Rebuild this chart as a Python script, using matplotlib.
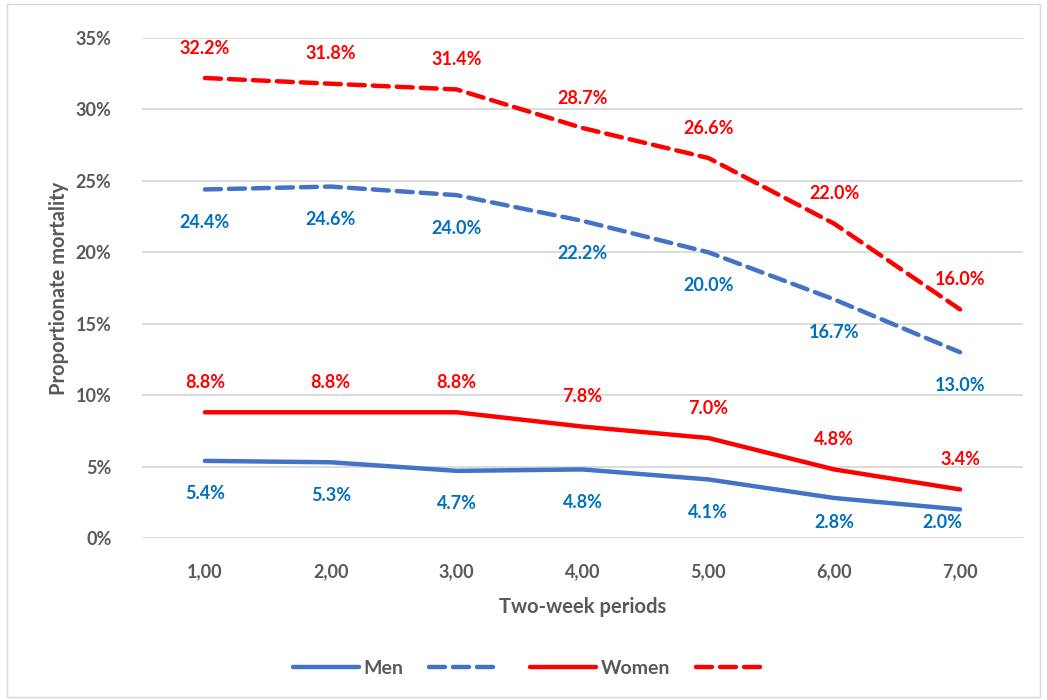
import matplotlib.pyplot as plt
from matplotlib.patches import Rectangle
from matplotlib.ticker import FuncFormatter

plt.rcParams['font.family'] = ['Lato', 'DejaVu Sans']
plt.rcParams['font.weight'] = 'bold'

periods = [1, 2, 3, 4, 5, 6, 7]
period_labels = ["1,00", "2,00", "3,00", "4,00", "5,00", "6,00", "7,00"]

men_solid = [5.4, 5.3, 4.7, 4.8, 4.1, 2.8, 2.0]
men_dashed = [24.4, 24.6, 24.0, 22.2, 20.0, 16.7, 13.0]
women_solid = [8.8, 8.8, 8.8, 7.8, 7.0, 4.8, 3.4]
women_dashed = [32.2, 31.8, 31.4, 28.7, 26.6, 22.0, 16.0]

MEN_LINE = '#4472C4'
MEN_TEXT = '#0070C0'
WOMEN = '#FF0000'
GREY = '#595959'

fig = plt.figure(figsize=(10.47, 7.0), dpi=100)
ax = fig.add_axes([142 / 1047, 1 - 538 / 700, (1023 - 142) / 1047, 500 / 700])

ax.set_xlim(0.5, 7.5)
ax.set_ylim(0, 35)

dash = (0, (3.6, 1.8))
l1, = ax.plot(periods, men_solid, color=MEN_LINE, lw=3.2, solid_capstyle='round', label='Men')
l2, = ax.plot(periods, men_dashed, color=MEN_LINE, lw=3.2, ls=dash, dash_capstyle='round', label=' ')
l3, = ax.plot(periods, women_solid, color=WOMEN, lw=3.2, solid_capstyle='round', label='Women')
l4, = ax.plot(periods, women_dashed, color=WOMEN, lw=3.2, ls=dash, dash_capstyle='round', label=' ')

# data labels: (values, colour, vertical offset in pixels)
series_labels = [
    (men_solid, MEN_TEXT, -33),
    (men_dashed, MEN_TEXT, -33),
    (women_solid, WOMEN, 30),
    (women_dashed, WOMEN, 30),
]
fig.canvas.draw()
y0_pix = ax.transData.transform((0, 0))[1]
for vals, col, dy in series_labels:
    for i, (x, v) in enumerate(zip(periods, vals)):
        off = dy
        if dy < 0:
            # keep labels inside the plot area like Excel does
            vpix = ax.transData.transform((x, v))[1]
            off = -min(-dy, vpix - y0_pix - 16)
        dx = -18 if (dy < 0 and off > -20 and i == len(vals) - 1) else 0
        ax.annotate(f"{v:.1f}%", (x, v), xytext=(dx, off), textcoords='offset pixels',
                    ha='center', va='center', color=col, fontsize=13, fontweight='bold')

ax.set_yticks(range(0, 36, 5))
ax.yaxis.set_major_formatter(FuncFormatter(lambda v, p: f"{v:.0f}%"))
ax.set_xticks(periods)
ax.set_xticklabels(period_labels)
ax.tick_params(length=0, colors=GREY, labelsize=13)
ax.tick_params(axis='y', pad=22)
ax.tick_params(axis='x', pad=18)
ax.grid(axis='y', color='#D9D9D9', lw=1.3)
ax.set_axisbelow(True)
for s in ax.spines.values():
    s.set_visible(False)

ax.set_xlabel("Two-week periods", fontsize=14.5, color=GREY, labelpad=12, fontweight='bold')
ax.set_ylabel("Proportionate mortality", fontsize=14.5, color=GREY, labelpad=5, fontweight='bold')

leg = fig.legend(handles=[l1, l2, l3, l4], loc='center', bbox_to_anchor=(0.508, 1 - 668 / 700),
                 ncol=4, frameon=False, fontsize=14, handlelength=3.4, handletextpad=0.25,
                 columnspacing=1.3)
for t in leg.get_texts():
    t.set_color(GREY)

fig.patches.append(Rectangle((7 / 1047, 0.004), 1 - 14 / 1047, 0.99, transform=fig.transFigure,
                             fill=False, edgecolor='#D9D9D9', lw=1))

fig.savefig('out.png', dpi=100)
